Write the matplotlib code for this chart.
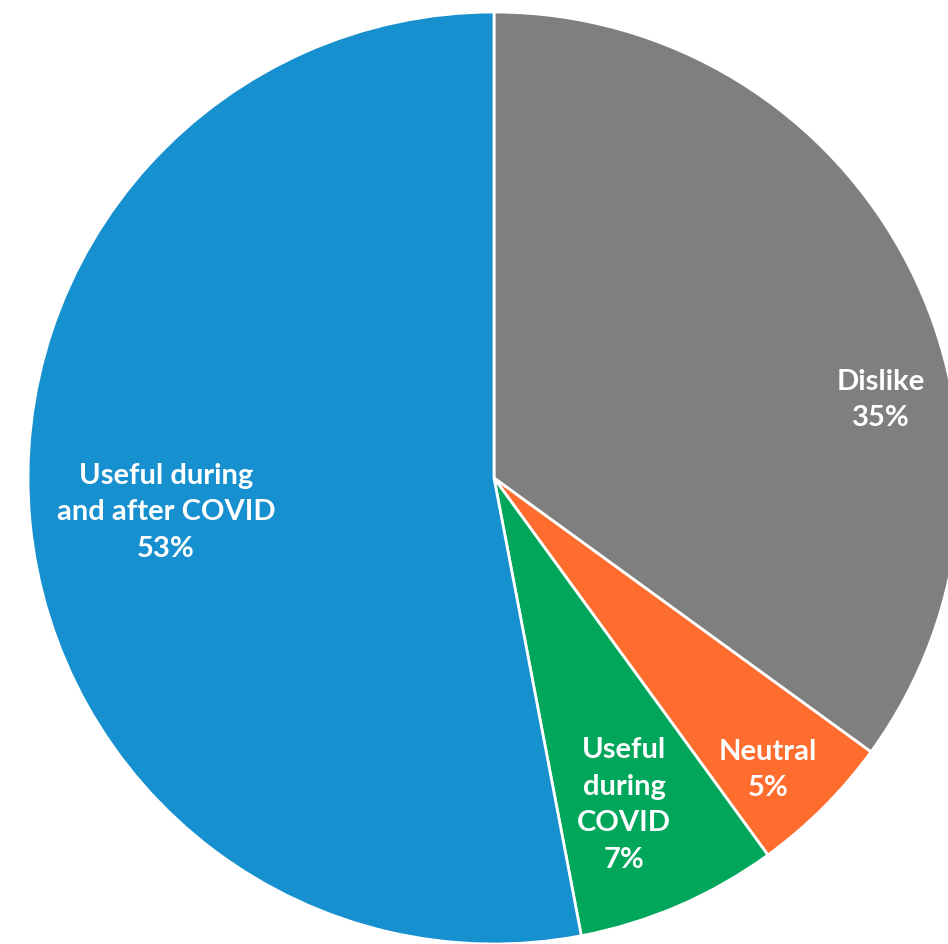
import matplotlib.pyplot as plt

labels = ['Dislike', 'Neutral', 'Useful\nduring\nCOVID', 'Useful during\nand after COVID']
shares = [35, 5, 7, 53]
colors = ['#7f7f80', '#ff6d2e', '#00a65a', '#1790d0']
# label anchor points, in units of the pie radius
label_xy = [(0.83, 0.167), (0.588, -0.627), (0.279, -0.702), (-0.704, -0.073)]

W, H = 948, 944
cx, cy, R = 494, 478, 466

fig = plt.figure(figsize=(W / 100, H / 100), dpi=100)
ax = fig.add_axes([0, 0, 1, 1])

ax.pie(shares, colors=colors, startangle=90, counterclock=False, radius=1,
       wedgeprops=dict(edgecolor='white', linewidth=2))

for lab, val, (x, y) in zip(labels, shares, label_xy):
    ax.text(x, y, f'{lab}\n{val}%', ha='center', va='center', color='white',
            fontsize=21, fontweight='bold', family=['Lato', 'DejaVu Sans'],
            linespacing=1.5)

ax.set_xlim(-cx / R, (W - cx) / R)
ax.set_ylim(-(H - cy) / R, cy / R)
ax.set_aspect('equal')
ax.axis('off')

fig.savefig('out.png', dpi=100)
